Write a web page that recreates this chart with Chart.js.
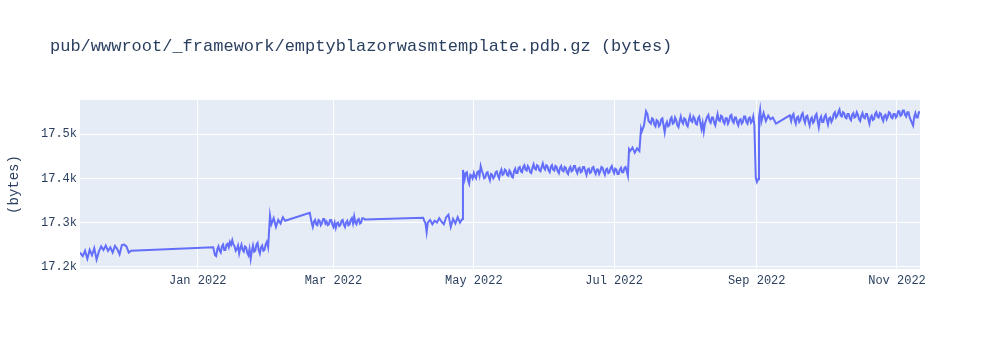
<!DOCTYPE html>
<html>
<head>
<meta charset="utf-8">
<script src="https://cdn.jsdelivr.net/npm/chart.js@4/dist/chart.umd.min.js"></script>
<style>
  html, body { margin: 0; background: #fff; }
</style>
</head>
<body>
<canvas id="chart" width="1000" height="350"></canvas>
<script>
// days since 2022-01-01 for each build sample
const days = [
  -51.2, -50, -49, -48, -47, -46, -45, -44, -43, -42,
  -41, -40, -39, -38, -37, -36, -35, -34, -33, -32,
  -31, -30, -29,
  6.7, 7.5, 8, 8.5, 9, 9.5, 10, 10.5, 11, 11.5,
  12, 12.5, 13, 13.5, 14, 14.5, 15, 15.5, 16, 16.5,
  17, 17.5, 18, 18.5, 19, 19.5, 20, 20.5, 21, 21.5,
  22, 22.5, 23, 23.5, 24, 24.5, 25, 25.5, 26, 26.5,
  27, 27.5, 28, 28.5, 29, 29.5, 30, 30.6,
  31.4, 32, 33, 34, 35, 36, 37, 38, 48.7,
  49.5, 50, 50.5, 51, 51.5, 52, 52.5, 53, 53.5, 54,
  54.5, 55, 55.5, 56, 56.5, 57, 57.5, 58, 58.5, 59,
  59.5, 60, 60.5, 61, 61.5, 62, 62.5, 63, 63.5, 64,
  64.5, 65, 65.5, 66, 66.5, 67, 67.5, 68, 68.5, 69,
  69.5, 70, 70.5, 71, 71.5, 72, 72.7, 98,
  98.5, 99, 99.5, 100, 101, 102, 103, 104, 105, 106,
  107, 108, 109, 110, 111, 112, 113, 114, 115,
  115.3,
  116, 116.5, 117, 117.5, 118, 118.5, 119, 119.5, 120, 120.5,
  121, 121.5, 122, 122.5, 123, 123.5, 124, 124.5, 125, 125.5,
  126, 126.5, 127, 127.5, 128, 128.5, 129, 129.5, 130, 130.5,
  131, 131.5, 132, 132.5, 133, 133.5, 134, 134.5, 135, 135.5,
  136, 136.5, 137, 137.5, 138, 138.5, 139, 139.5, 140, 140.5,
  141, 141.5, 142, 142.5, 143, 143.5, 144, 144.5, 145, 145.5,
  146, 146.5, 147, 147.5, 148, 148.5, 149, 149.5, 150, 150.5,
  151, 151.5, 152, 152.5, 153, 153.5, 154, 154.5, 155, 155.5,
  156, 156.5, 157, 157.5, 158, 158.5, 159, 159.5, 160, 160.5,
  161, 161.5, 162, 162.5, 163, 163.5, 164, 164.5, 165, 165.5,
  166, 166.5, 167, 167.5, 168, 168.5, 169, 169.5, 170, 170.5,
  171, 171.5, 172, 172.5, 173, 173.5, 174, 174.5, 175, 175.5,
  176, 176.5, 177, 177.5, 178, 178.5, 179, 179.5, 180, 180.5,
  181, 181.5, 182, 182.5, 183, 183.5, 184, 184.5, 185, 185.5,
  186, 186.5, 187,
  187.5, 188, 189, 190, 191, 192, 192.7, 193, 194, 194.9, 195.5, 196,
  197, 197.5, 198, 198.5, 199, 199.5, 200, 200.5, 201, 201.5,
  202, 202.5, 203, 203.5, 204, 204.5, 205, 205.5, 206, 206.5,
  207, 207.5, 208, 208.5, 209, 209.5, 210, 210.5, 211, 211.5,
  212, 212.5, 213, 213.5, 214, 214.5, 215, 215.5, 216, 216.5,
  217, 217.5, 218, 218.5, 219, 219.5, 220, 220.5, 221, 221.5,
  222, 222.5, 223, 223.5, 224, 224.5, 225, 225.5, 226, 226.5,
  227, 227.5, 228, 228.5, 229, 229.5, 230, 230.5, 231, 231.5,
  232, 232.5, 233, 233.5, 234, 234.5, 235, 235.5, 236, 236.5,
  237, 237.5, 238, 238.5, 239, 239.5, 240, 240.5, 241, 241.5,
  242,
  242.6, 243.1, 243.6, 244.0, 244.5, 245, 246, 247, 248, 249, 250, 251.4, 257.4,
  258, 258.5, 259, 259.5, 260, 260.5, 261, 261.5, 262, 262.5,
  263, 263.5, 264, 264.5, 265, 265.5, 266, 266.5, 267, 267.5,
  268, 268.5, 269, 269.5, 270, 270.5, 271, 271.5, 272, 272.5,
  273, 273.5, 274, 274.5, 275, 275.5, 276, 276.5, 277, 277.5,
  278, 278.5, 279, 279.5, 280, 280.5, 281, 281.5, 282, 282.5,
  283, 283.5, 284, 284.5, 285, 285.5, 286, 286.5, 287, 287.5,
  288, 288.5, 289, 289.5, 290, 290.5, 291, 291.5, 292, 292.5,
  293, 293.5, 294, 294.5, 295, 295.5, 296, 296.5, 297, 297.5,
  298, 298.5, 299, 299.5, 300, 300.5, 301, 301.5, 302, 302.5,
  303, 303.5, 304, 304.5, 305, 305.5, 306, 306.5, 307, 307.5,
  308, 308.5, 309, 309.5, 310, 310.5, 311, 311.5, 312, 312.5,
  313, 313.5, 314
];

// file size in bytes, same order as days
const bytes = [
  17232, 17224, 17236, 17218, 17238, 17226, 17242, 17216, 17234, 17246,
  17238, 17248, 17236, 17244, 17232, 17247, 17240, 17228, 17249, 17250,
  17246, 17232, 17236,
  17244, 17226, 17224, 17240, 17246, 17236, 17232, 17246, 17250, 17238,
  17238, 17250, 17252, 17244, 17256, 17250, 17260, 17250, 17246, 17236,
  17240, 17248, 17230, 17242, 17250, 17238, 17234, 17246, 17244, 17232,
  17226, 17240, 17218, 17236, 17248, 17234, 17236, 17250, 17254, 17238,
  17230, 17244, 17248, 17236, 17238, 17250, 17256, 17244,
  17316, 17296, 17310, 17290, 17306, 17298, 17312, 17304, 17322,
  17300, 17290, 17302, 17306, 17296, 17294, 17306, 17304, 17294, 17298,
  17308, 17308, 17298, 17302, 17294, 17296, 17306, 17306, 17296, 17290,
  17300, 17288, 17298, 17300, 17292, 17294, 17304, 17306, 17296, 17290,
  17300, 17304, 17294, 17296, 17306, 17310, 17298, 17314, 17300, 17296,
  17306, 17308, 17298, 17300, 17310, 17310, 17307, 17311,
  17304, 17298, 17278, 17300, 17306, 17296, 17304, 17300, 17310, 17302,
  17296, 17312, 17318, 17290, 17308, 17298, 17312, 17300, 17308,
  17419,
  17398, 17412, 17414, 17396, 17388, 17408, 17406, 17400, 17412, 17404,
  17400, 17414, 17416, 17406, 17428, 17418, 17410, 17400, 17402, 17412,
  17414, 17404, 17396, 17410, 17408, 17400, 17404, 17414, 17416, 17406,
  17400, 17414, 17420, 17408, 17410, 17420, 17418, 17408, 17406, 17418,
  17414, 17404, 17402, 17416, 17422, 17412, 17412, 17424, 17426, 17416,
  17414, 17426, 17430, 17420, 17418, 17428, 17424, 17414, 17412, 17424,
  17432, 17422, 17420, 17430, 17428, 17418, 17416, 17426, 17434, 17424,
  17420, 17430, 17428, 17418, 17414, 17426, 17430, 17420, 17418, 17428,
  17426, 17416, 17412, 17424, 17428, 17418, 17416, 17426, 17424, 17414,
  17410, 17422, 17426, 17416, 17418, 17428, 17428, 17418, 17412, 17422,
  17424, 17414, 17416, 17426, 17426, 17416, 17408, 17420, 17422, 17412,
  17414, 17424, 17426, 17416, 17410, 17420, 17420, 17410, 17416, 17426,
  17424, 17414, 17408, 17420, 17422, 17412, 17414, 17424, 17428, 17418,
  17412, 17422, 17420, 17410, 17410, 17420, 17424, 17414, 17414, 17424,
  17426, 17416, 17406,
  17466, 17462, 17470, 17458, 17468, 17462, 17512, 17506, 17520, 17552, 17546, 17530,
  17524, 17536, 17534, 17522, 17518, 17532, 17530, 17518, 17522, 17534,
  17536, 17520, 17504, 17522, 17528, 17518, 17520, 17534, 17538, 17524,
  17526, 17538, 17532, 17520, 17516, 17530, 17540, 17528, 17524, 17536,
  17534, 17522, 17518, 17532, 17542, 17530, 17528, 17540, 17536, 17524,
  17522, 17536, 17540, 17526, 17512, 17526, 17506, 17524, 17532, 17540,
  17544, 17530, 17526, 17538, 17538, 17526, 17520, 17534, 17546, 17532,
  17530, 17542, 17540, 17528, 17524, 17536, 17536, 17524, 17530, 17542,
  17544, 17530, 17526, 17538, 17538, 17526, 17520, 17532, 17534, 17524,
  17528, 17540, 17540, 17528, 17524, 17536, 17538, 17526, 17530, 17540,
  17520,
  17402, 17392, 17398, 17538, 17556, 17528, 17548, 17530, 17542, 17534, 17538, 17524, 17543,
  17530, 17542, 17546, 17532, 17524, 17538, 17540, 17528, 17532, 17544,
  17548, 17534, 17526, 17540, 17542, 17530, 17520, 17534, 17538, 17526,
  17530, 17542, 17546, 17530, 17516, 17534, 17540, 17528, 17528, 17540,
  17544, 17532, 17522, 17536, 17538, 17528, 17534, 17546, 17550, 17538,
  17542, 17550, 17556, 17542, 17540, 17550, 17548, 17538, 17536, 17546,
  17546, 17536, 17532, 17544, 17548, 17538, 17540, 17550, 17544, 17534,
  17530, 17542, 17548, 17538, 17536, 17546, 17546, 17534, 17524, 17538,
  17542, 17532, 17534, 17546, 17550, 17540, 17538, 17548, 17546, 17536,
  17530, 17542, 17544, 17534, 17540, 17550, 17548, 17538, 17536, 17546,
  17546, 17538, 17542, 17552, 17552, 17542, 17544, 17554, 17554, 17544,
  17540, 17550, 17550, 17538, 17532, 17526, 17520, 17540, 17548, 17538,
  17538, 17550, 17550
];

const monthDays = [0, 59, 120, 181, 243, 304];
const monthLabels = ['Jan 2022', 'Mar 2022', 'May 2022', 'Jul 2022', 'Sep 2022', 'Nov 2022'];
const yTicks = [17200, 17300, 17400, 17500];

const textColor = '#2a3f5f';
const mono = "'Liberation Mono', 'Courier New', monospace";

const plotBg = {
  id: 'plotBg',
  beforeDraw(chart) {
    const { ctx, chartArea: a } = chart;
    ctx.save();
    ctx.fillStyle = '#fff';
    ctx.fillRect(0, 0, chart.width, chart.height);
    ctx.fillStyle = '#e5ecf6';
    ctx.fillRect(a.left, a.top, a.right - a.left, a.bottom - a.top);
    ctx.restore();
  }
};

const plotTitle = {
  id: 'plotTitle',
  afterDraw(chart) {
    const ctx = chart.ctx;
    ctx.save();
    ctx.font = '17px ' + mono;
    ctx.fillStyle = textColor;
    ctx.textBaseline = 'middle';
    ctx.fillText('pub/wwwroot/_framework/emptyblazorwasmtemplate.pdb.gz (bytes)', 50, 46);
    ctx.restore();
  }
};

const points = days.map((d, i) => ({ x: d, y: bytes[i] }));

new Chart(document.getElementById('chart'), {
  type: 'line',
  data: {
    datasets: [{
      data: points,
      borderColor: '#636efa',
      borderWidth: 2,
      pointRadius: 0,
      tension: 0,
      fill: false
    }]
  },
  options: {
    responsive: false,
    animation: false,
    layout: { padding: { top: 100, right: 80, bottom: 0, left: 0 } },
    plugins: {
      legend: { display: false },
      tooltip: { enabled: false }
    },
    scales: {
      x: {
        type: 'linear',
        min: -51.2,
        max: 314,
        afterBuildTicks: s => { s.ticks = monthDays.map(v => ({ value: v })); },
        afterFit: s => { s.height = 81; },
        grid: { color: '#fff', lineWidth: 1, drawTicks: false },
        border: { display: false },
        ticks: {
          autoSkip: false,
          maxRotation: 0,
          padding: 5,
          color: textColor,
          font: { family: mono, size: 12 },
          callback: v => monthLabels[monthDays.indexOf(v)]
        }
      },
      y: {
        min: 17194.8,
        max: 17577.6,
        afterBuildTicks: s => { s.ticks = yTicks.map(v => ({ value: v })); },
        afterFit: s => { s.width = 80; },
        grid: { color: '#fff', lineWidth: 1, drawTicks: false },
        border: { display: false },
        ticks: {
          padding: 3,
          color: textColor,
          font: { family: mono, size: 12 },
          callback: v => (v / 1000).toFixed(1) + 'k'
        },
        title: {
          display: true,
          text: '(bytes)',
          color: textColor,
          font: { family: mono, size: 14 },
          padding: { top: 6, bottom: 0 }
        }
      }
    }
  },
  plugins: [plotBg, plotTitle]
});
</script>
</body>
</html>
